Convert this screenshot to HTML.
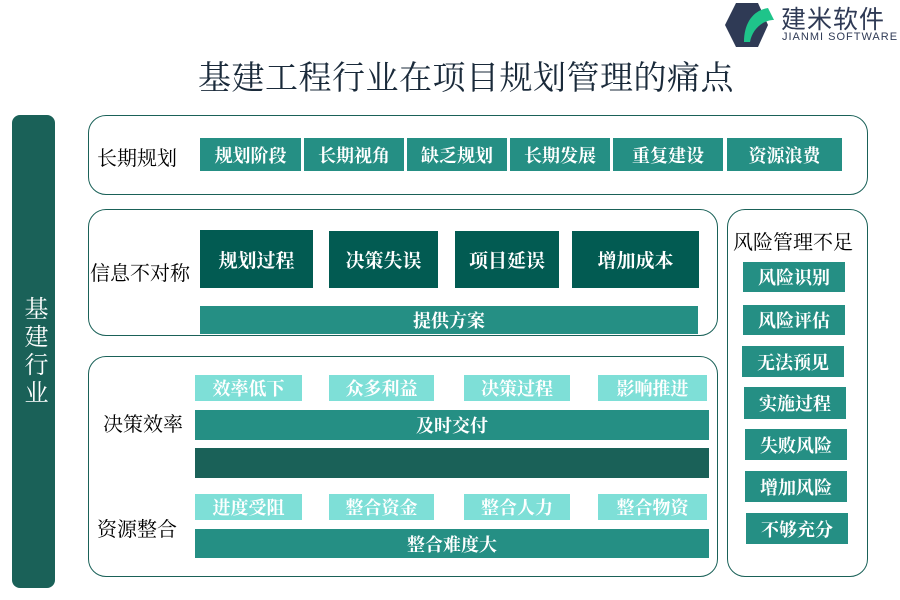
<!DOCTYPE html>
<html><head><meta charset="utf-8"><style>
body{margin:0;width:900px;height:600px;background:#fff;position:relative;overflow:hidden;font-family:"Liberation Serif","Noto Serif CJK SC",serif}
div{position:absolute;box-sizing:border-box}
.b{display:flex;align-items:center;justify-content:center;color:#fff;font-weight:bold;font-size:18px;background:#258f84}
.d{background:#025b52;font-size:19px}
.l{background:#7edfd7;font-size:18px}
.c{border:1.5px solid #1a6158;border-radius:18px}
.t{font-size:20px;color:#000;white-space:nowrap}
</style></head><body>
<svg style="position:absolute;left:722px;top:2px" width="60" height="46" viewBox="0 0 60 46">
<polygon points="14,1 36,1 46,23 36,45 14,45 3,23" fill="#2f3a55"/>
<path d="M22,40 C22,20 32,8 46,6 L52,18 C40,18 30,28 28,40 Z" fill="#1fc48a"/>
</svg>
<div style="left:781px;top:0px;font-family:'Liberation Sans','Noto Sans CJK SC',sans-serif;font-size:25px;color:#2f3a55;letter-spacing:1px">建米软件</div>
<div style="left:782px;top:31px;font-family:'Liberation Sans',sans-serif;font-size:11px;color:#2f3a55;letter-spacing:1px">JIANMI SOFTWARE</div>
<div style="left:198px;top:52px;font-size:33px;color:#1a2a3a;white-space:nowrap;letter-spacing:0.5px">基建工程行业在项目规划管理的痛点</div>

<div style="left:12px;top:115px;width:43px;height:473px;background:#1a6158;border-radius:8px;color:#fff;font-size:24px;display:flex;align-items:center;justify-content:center;writing-mode:vertical-rl;letter-spacing:4px">基建行业</div>

<div class="c" style="left:88px;top:115px;width:780px;height:80px"></div>
<div class="t" style="left:97px;top:142px">长期规划</div>
<div class="b" style="left:200px;top:138px;width:101px;height:33px">规划阶段</div>
<div class="b" style="left:304px;top:138px;width:100px;height:33px">长期视角</div>
<div class="b" style="left:407px;top:138px;width:100px;height:33px">缺乏规划</div>
<div class="b" style="left:510px;top:138px;width:100px;height:33px">长期发展</div>
<div class="b" style="left:613px;top:138px;width:110px;height:33px">重复建设</div>
<div class="b" style="left:727px;top:138px;width:115px;height:33px">资源浪费</div>

<div class="c" style="left:88px;top:209px;width:630px;height:127px"></div>
<div class="t" style="left:90px;top:257px">信息不对称</div>
<div class="b d" style="left:200px;top:230px;width:113px;height:58px">规划过程</div>
<div class="b d" style="left:329px;top:231px;width:109px;height:57px">决策失误</div>
<div class="b d" style="left:455px;top:231px;width:104px;height:57px">项目延误</div>
<div class="b d" style="left:572px;top:231px;width:127px;height:57px">增加成本</div>
<div class="b" style="left:200px;top:306px;width:498px;height:28px">提供方案</div>

<div class="c" style="left:88px;top:356px;width:630px;height:221px"></div>
<div class="t" style="left:103px;top:408px">决策效率</div>
<div class="t" style="left:97px;top:513px">资源整合</div>
<div class="b l" style="left:195px;top:375px;width:107px;height:26px">效率低下</div>
<div class="b l" style="left:329px;top:375px;width:105px;height:26px">众多利益</div>
<div class="b l" style="left:464px;top:375px;width:106px;height:26px">决策过程</div>
<div class="b l" style="left:598px;top:375px;width:109px;height:26px">影响推进</div>
<div class="b" style="left:195px;top:410px;width:514px;height:30px">及时交付</div>
<div style="left:195px;top:448px;width:514px;height:30px;background:#1a6158"></div>
<div class="b l" style="left:195px;top:494px;width:107px;height:26px">进度受阻</div>
<div class="b l" style="left:329px;top:494px;width:105px;height:26px">整合资金</div>
<div class="b l" style="left:464px;top:494px;width:106px;height:26px">整合人力</div>
<div class="b l" style="left:598px;top:494px;width:109px;height:26px">整合物资</div>
<div class="b" style="left:195px;top:529px;width:514px;height:29px">整合难度大</div>

<div class="c" style="left:727px;top:209px;width:141px;height:368px"></div>
<div class="t" style="left:733px;top:226px;font-size:20px">风险管理不足</div>
<div class="b" style="left:743px;top:262px;width:102px;height:30px">风险识别</div>
<div class="b" style="left:743px;top:305px;width:102px;height:30px">风险评估</div>
<div class="b" style="left:742px;top:346px;width:102px;height:31px">无法预见</div>
<div class="b" style="left:744px;top:387px;width:102px;height:32px">实施过程</div>
<div class="b" style="left:745px;top:429px;width:102px;height:31px">失败风险</div>
<div class="b" style="left:745px;top:471px;width:102px;height:31px">增加风险</div>
<div class="b" style="left:746px;top:513px;width:102px;height:31px">不够充分</div>
</body></html>
